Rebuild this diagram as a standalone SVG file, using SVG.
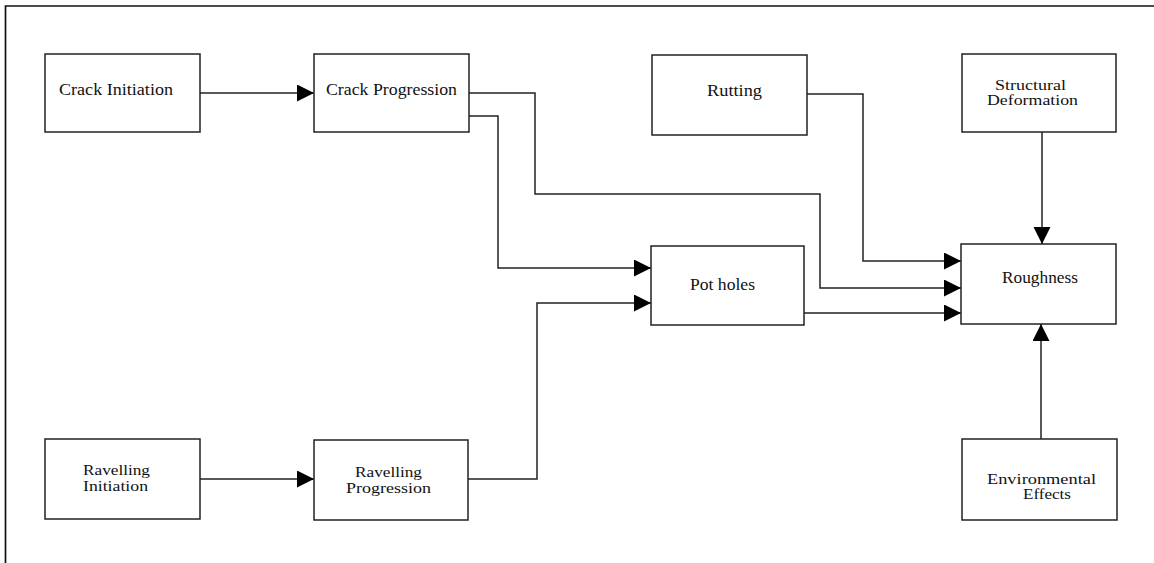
<svg xmlns="http://www.w3.org/2000/svg" width="1154" height="563" viewBox="0 0 1154 563">
<style>
.box{fill:#fff;stroke:#222;stroke-width:1.5}
.lbl{font-family:"Liberation Serif","DejaVu Serif",serif;font-size:16.5px;fill:#111}
.lbl2{font-family:"Liberation Serif","DejaVu Serif",serif;font-size:15.5px;fill:#111}
.c{fill:none;stroke:#222;stroke-width:1.5}
.frame{fill:none;stroke:#111;stroke-width:1.7}
</style>
<defs>
<marker id="ah" markerUnits="userSpaceOnUse" markerWidth="18" markerHeight="18" refX="17" refY="8.5" orient="auto">
<path d="M0,0 L17,8.5 L0,17 z" fill="#000"/>
</marker>
</defs>
<rect width="1154" height="563" fill="#fff"/>
<path class="frame" d="M5.5,563 V6 H1154"/>

<g id="connectors">
<path class="c" d="M200,93 H314" marker-end="url(#ah)"/>
<path class="c" d="M469,93 H535 V194 H820 V288 H961" marker-end="url(#ah)"/>
<path class="c" d="M469,116 H498 V268 H651" marker-end="url(#ah)"/>
<path class="c" d="M200,479 H314" marker-end="url(#ah)"/>
<path class="c" d="M468,479 H537 V303 H651" marker-end="url(#ah)"/>
<path class="c" d="M807,94 H863 V261 H961" marker-end="url(#ah)"/>
<path class="c" d="M804,313 H961" marker-end="url(#ah)"/>
<path class="c" d="M1042,132 V244" marker-end="url(#ah)"/>
<path class="c" d="M1041,439 V324" marker-end="url(#ah)"/>
</g>

<g id="crack-initiation">
<rect class="box" x="45" y="54" width="155" height="78"/>
<text class="lbl" x="59" y="95" textLength="114" lengthAdjust="spacingAndGlyphs">Crack Initiation</text>
</g>
<g id="crack-progression">
<rect class="box" x="314" y="54" width="155" height="78"/>
<text class="lbl" x="326" y="95" textLength="131" lengthAdjust="spacingAndGlyphs">Crack Progression</text>
</g>
<g id="rutting">
<rect class="box" x="652" y="55" width="155" height="80"/>
<text class="lbl" x="707" y="96" textLength="55" lengthAdjust="spacingAndGlyphs">Rutting</text>
</g>
<g id="structural-deformation">
<rect class="box" x="962" y="54" width="154" height="78"/>
<text class="lbl2" x="995" y="90" textLength="71" lengthAdjust="spacingAndGlyphs">Structural</text>
<text class="lbl2" x="987" y="105" textLength="91" lengthAdjust="spacingAndGlyphs">Deformation</text>
</g>
<g id="pot-holes">
<rect class="box" x="651" y="246" width="153" height="79"/>
<text class="lbl" x="690" y="290" textLength="65" lengthAdjust="spacingAndGlyphs">Pot holes</text>
</g>
<g id="roughness">
<rect class="box" x="961" y="244" width="155" height="80"/>
<text class="lbl" x="1002" y="283" textLength="76" lengthAdjust="spacingAndGlyphs">Roughness</text>
</g>
<g id="ravelling-initiation">
<rect class="box" x="45" y="439" width="155" height="80"/>
<text class="lbl2" x="83" y="475" textLength="67" lengthAdjust="spacingAndGlyphs">Ravelling</text>
<text class="lbl2" x="83" y="491" textLength="65" lengthAdjust="spacingAndGlyphs">Initiation</text>
</g>
<g id="ravelling-progression">
<rect class="box" x="314" y="440" width="154" height="80"/>
<text class="lbl2" x="355" y="477" textLength="67" lengthAdjust="spacingAndGlyphs">Ravelling</text>
<text class="lbl2" x="346" y="493" textLength="85" lengthAdjust="spacingAndGlyphs">Progression</text>
</g>
<g id="environmental-effects">
<rect class="box" x="962" y="439" width="155" height="81"/>
<text class="lbl2" x="987" y="484" textLength="109" lengthAdjust="spacingAndGlyphs">Environmental</text>
<text class="lbl2" x="1023" y="499" textLength="48" lengthAdjust="spacingAndGlyphs">Effects</text>
</g>
</svg>
